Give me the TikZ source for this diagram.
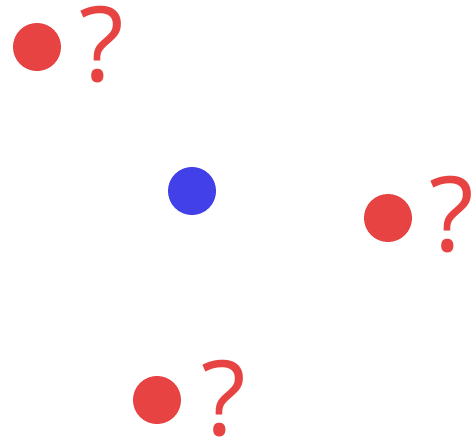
\documentclass[tikz,border=0pt]{standalone}
\usepackage{fontspec}
\setmainfont{Open Sans}
\usepackage{tikz}
\definecolor{dotred}{RGB}{232,67,67}
\definecolor{dotblue}{RGB}{66,64,232}
\tikzset{
  pt/.style={circle, fill=dotred, inner sep=0pt, minimum size=48pt},
  ctr/.style={pt, fill=dotblue},
  qm/.style={text=dotred, inner sep=0pt, font=\fontsize{104}{104}\selectfont}
}
\begin{document}
\begin{tikzpicture}[x=1pt,y=-1pt]
    \useasboundingbox (0,0) rectangle (474,440);
    \node[ctr] (b) at (192,191) {};
    \foreach \i/\x/\y/\qx/\qy in {1/37/47/101.5/45,2/388/218/452/215,3/157/400/223.5/399}{
      \node[pt] (r\i) at (\x,\y) {};
      \node[qm] (q\i) at (\qx,\qy) {?};
    }
  \end{tikzpicture}
\end{document}
